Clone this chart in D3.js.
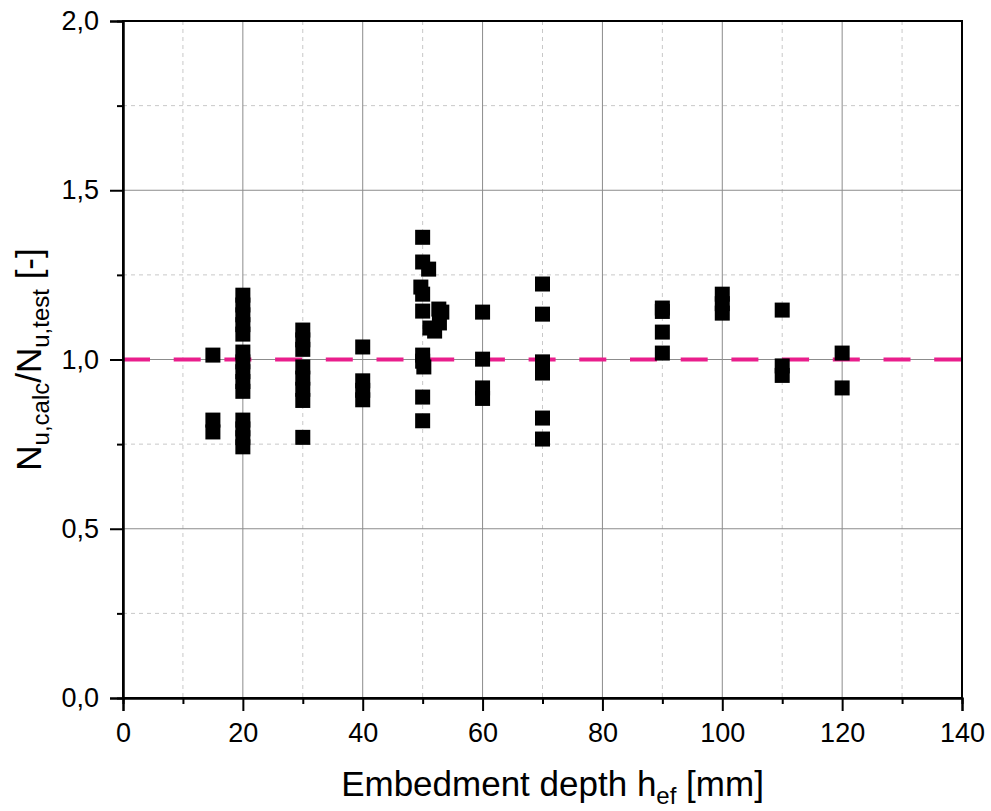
<!DOCTYPE html>
<html>
<head>
<meta charset="utf-8">
<script src="https://cdn.jsdelivr.net/npm/d3@7"></script>
<style>
  body { margin: 0; background: #fff; }
  svg { font-family: "Liberation Sans", Arial, sans-serif; }
</style>
</head>
<body>
<div id="chart"></div>
<script>
// embedment depth h_ef [mm] and ratio N_u,calc / N_u,test
var depth = [15, 15, 15,
  20, 20, 20, 20, 20, 20, 20, 20, 20, 20, 20, 20, 20, 20,
  30, 30, 30, 30, 30, 30, 30, 30,
  40, 40, 40, 40,
  50, 50, 51, 49.7, 50, 50, 52.7, 53.2, 51.2, 52, 52.8, 50, 50, 50.2, 50, 50,
  60, 60, 60, 60,
  70, 70, 70, 70, 70, 70,
  90, 90, 90, 90,
  100, 100, 100,
  110, 110, 110,
  120, 120];
var ratio = [1.013, 0.821, 0.786,
  1.190, 1.161, 1.132, 1.103, 1.075, 1.022, 0.993, 0.964, 0.935, 0.906, 0.821, 0.795, 0.769, 0.742,
  1.087, 1.058, 1.030, 0.978, 0.945, 0.912, 0.879, 0.770,
  1.037, 0.937, 0.909, 0.881,
  1.361, 1.288, 1.267, 1.214, 1.193, 1.143, 1.149, 1.140, 1.093, 1.084, 1.108, 1.013, 0.995, 0.978, 0.889, 0.819,
  1.140, 1.001, 0.916, 0.885,
  1.223, 1.134, 0.993, 0.960, 0.827, 0.765,
  1.152, 1.142, 1.081, 1.019,
  1.193, 1.165, 1.137,
  1.146, 0.981, 0.953,
  1.019, 0.916];

var xMajor = [0, 20, 40, 60, 80, 100, 120, 140];
var xMinor = [10, 30, 50, 70, 90, 110, 130];
var yMajor = [0, 0.5, 1.0, 1.5, 2.0];
var yMinor = [0.25, 0.75, 1.25, 1.75];
var refValue = 1.0;

var width = 991, height = 811;
var margin = {left: 123, top: 21, right: 29, bottom: 113};
var w = width - margin.left - margin.right,
    h = height - margin.top - margin.bottom;

var x = d3.scaleLinear().domain([0, 140]).range([0, w]);
var y = d3.scaleLinear().domain([0, 2]).range([h, 0]);
var fmt = function(d){ return d3.format(".1f")(d).replace(".", ","); };

var svg = d3.select("#chart").append("svg")
    .attr("width", width)
    .attr("height", height);
var g = svg.append("g")
    .attr("transform", "translate(" + margin.left + "," + margin.top + ")");

// grid
g.selectAll(".vminor").data(xMinor).enter().append("line")
    .attr("x1", d => x(d)).attr("x2", d => x(d))
    .attr("y1", 0).attr("y2", h)
    .attr("stroke", "#c8c8c8").attr("stroke-dasharray", "4,4");
g.selectAll(".hminor").data(yMinor).enter().append("line")
    .attr("x1", 0).attr("x2", w)
    .attr("y1", d => y(d)).attr("y2", d => y(d))
    .attr("stroke", "#c8c8c8").attr("stroke-dasharray", "4,4");
g.selectAll(".vmajor").data(xMajor.slice(1, -1)).enter().append("line")
    .attr("x1", d => x(d)).attr("x2", d => x(d))
    .attr("y1", 0).attr("y2", h)
    .attr("stroke", "#8c8c8c");
g.selectAll(".hmajor").data(yMajor.slice(1, -1)).enter().append("line")
    .attr("x1", 0).attr("x2", w)
    .attr("y1", d => y(d)).attr("y2", d => y(d))
    .attr("stroke", "#8c8c8c");

// reference line
g.append("line")
    .attr("x1", x(0)).attr("x2", x(140))
    .attr("y1", y(refValue)).attr("y2", y(refValue))
    .attr("stroke", "#e91e8c").attr("stroke-width", 4)
    .attr("stroke-dasharray", "27,23.7");

// points
var size = 15;
g.selectAll(".pt").data(depth.map((d, i) => [d, ratio[i]])).enter().append("rect")
    .attr("x", d => x(d[0]) - size / 2)
    .attr("y", d => y(d[1]) - size / 2)
    .attr("width", size).attr("height", size)
    .attr("fill", "#000");

// frame
g.append("rect").attr("width", w).attr("height", h)
    .attr("fill", "none").attr("stroke", "#000").attr("stroke-width", 2);

// axes
var xAxis = g.append("g").attr("transform", "translate(0," + h + ")")
    .call(d3.axisBottom(x).tickValues(xMajor).tickSize(13).tickPadding(12).tickFormat(d3.format("d")));
var xMinorAxis = g.append("g").attr("transform", "translate(0," + h + ")")
    .call(d3.axisBottom(x).tickValues(xMinor).tickSize(6).tickFormat(""));
var yAxis = g.append("g")
    .call(d3.axisLeft(y).tickValues(yMajor).tickSize(13).tickPadding(11).tickFormat(fmt));
var yMinorAxis = g.append("g")
    .call(d3.axisLeft(y).tickValues(yMinor).tickSize(6).tickFormat(""));

[xAxis, xMinorAxis, yAxis, yMinorAxis].forEach(function(a){
  a.select(".domain").attr("stroke-width", 2);
  a.selectAll(".tick line").attr("stroke-width", 2);
  a.selectAll("text").attr("font-size", 27).attr("fill", "#000")
    .style("font-family", "Liberation Sans, Arial, sans-serif");
});

// axis titles
var xt = svg.append("text")
    .attr("x", margin.left + w / 2 + 10).attr("y", 796)
    .attr("text-anchor", "middle").attr("font-size", 35);
xt.append("tspan").text("Embedment depth h");
xt.append("tspan").attr("dy", 8).attr("font-size", 24).text("ef");
xt.append("tspan").attr("dy", -8).text(" [mm]");

var yt = svg.append("text")
    .attr("transform", "translate(41," + (margin.top + h / 2) + ") rotate(-90)")
    .attr("text-anchor", "middle").attr("font-size", 35);
yt.append("tspan").text("N");
yt.append("tspan").attr("dy", 8).attr("font-size", 24).text("u,calc");
yt.append("tspan").attr("dy", -8).text("/N");
yt.append("tspan").attr("dy", 8).attr("font-size", 24).text("u,test");
yt.append("tspan").attr("dy", -8).text(" [-]");
</script>
</body>
</html>
